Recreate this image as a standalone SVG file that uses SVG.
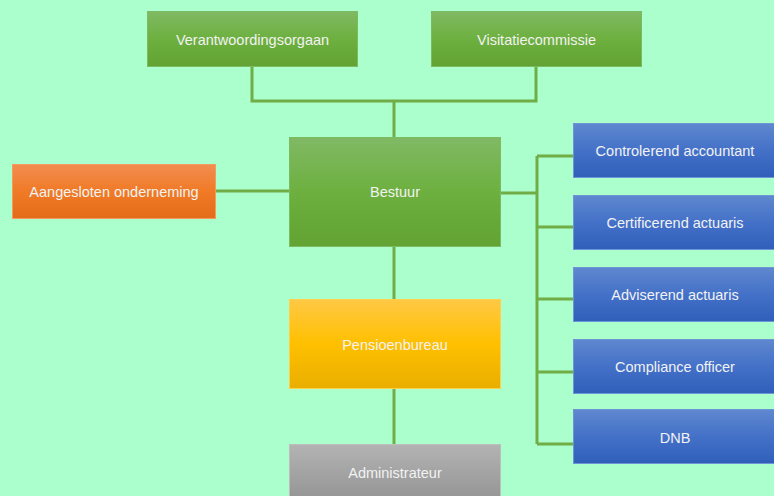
<svg xmlns="http://www.w3.org/2000/svg" width="774" height="496" viewBox="0 0 774 496">
<defs>
<linearGradient id="gG" x1="0" y1="0" x2="0" y2="1"><stop offset="0" stop-color="#80B964"/><stop offset="0.5" stop-color="#6DB03F"/><stop offset="1" stop-color="#62A334"/></linearGradient>
<linearGradient id="gO" x1="0" y1="0" x2="0" y2="1"><stop offset="0" stop-color="#F28D50"/><stop offset="0.5" stop-color="#F07A26"/><stop offset="1" stop-color="#E46C1A"/></linearGradient>
<linearGradient id="gY" x1="0" y1="0" x2="0" y2="1"><stop offset="0" stop-color="#FFC845"/><stop offset="0.5" stop-color="#FFC000"/><stop offset="1" stop-color="#E9AE00"/></linearGradient>
<linearGradient id="gA" x1="0" y1="0" x2="0" y2="1"><stop offset="0" stop-color="#B3B3B3"/><stop offset="1" stop-color="#929292"/></linearGradient>
<linearGradient id="gB" x1="0" y1="0" x2="0" y2="1"><stop offset="0" stop-color="#5F88CF"/><stop offset="0.5" stop-color="#4471C8"/><stop offset="1" stop-color="#2F5FBA"/></linearGradient>
</defs>
<style>
.g{fill:url(#gG);stroke:#7DBA62;stroke-width:1}
.o{fill:url(#gO);stroke:#F39A5E;stroke-width:1}
.y{fill:url(#gY);stroke:#FFD04A;stroke-width:1}
.a{fill:url(#gA);stroke:#BDBDBD;stroke-width:1}
.b{fill:url(#gB);stroke:#6E94D6;stroke-width:1}
text{font-family:"Liberation Sans",Arial,sans-serif;font-size:14.5px;fill:#F2F2F2;text-anchor:middle;dominant-baseline:central}
.c{fill:none;stroke:#70AD47;stroke-width:3}
</style>
<rect width="774" height="496" fill="#AAFFCD"/>
<g id="connectors">
<path class="c" d="M252,67 V101 H536 V67"/>
<path class="c" d="M394,101 V138"/>
<path class="c" d="M216,191 H289"/>
<path class="c" d="M501,193 H537"/>
<path class="c" d="M537,156 V444"/>
<path class="c" d="M537,156 H574 M537,227 H574 M537,299 H574 M537,372 H574 M537,444 H574"/>
<path class="c" d="M394,247 V299"/>
<path class="c" d="M394,389 V444"/>
</g>
<g id="verantwoordingsorgaan"><rect class="g" x="147.5" y="11.5" width="210" height="55"/><text x="252.5" y="40">Verantwoordingsorgaan</text></g>
<g id="visitatiecommissie"><rect class="g" x="431.5" y="11.5" width="210" height="55"/><text x="536.5" y="40">Visitatiecommissie</text></g>
<g id="bestuur"><rect class="g" x="289.5" y="137.5" width="211" height="109"/><text x="395" y="192">Bestuur</text></g>
<g id="aangesloten"><rect class="o" x="12.5" y="164.5" width="203" height="54"/><text x="114" y="191.5">Aangesloten onderneming</text></g>
<g id="pensioenbureau"><rect class="y" x="289.5" y="299.5" width="211" height="89"/><text x="395" y="345">Pensioenbureau</text></g>
<g id="administrateur"><rect class="a" x="289.5" y="444.5" width="211" height="60"/><text x="395" y="473">Administrateur</text></g>
<g id="controlerend"><rect class="b" x="573.5" y="123.5" width="210" height="54"/><text x="675" y="151">Controlerend accountant</text></g>
<g id="certificerend"><rect class="b" x="573.5" y="195.5" width="210" height="54"/><text x="675" y="223">Certificerend actuaris</text></g>
<g id="adviserend"><rect class="b" x="573.5" y="267.5" width="210" height="54"/><text x="675" y="295">Adviserend actuaris</text></g>
<g id="compliance"><rect class="b" x="573.5" y="339.5" width="210" height="54"/><text x="675" y="367">Compliance officer</text></g>
<g id="dnb"><rect class="b" x="573.5" y="409.5" width="210" height="54"/><text x="675" y="438">DNB</text></g>
</svg>
